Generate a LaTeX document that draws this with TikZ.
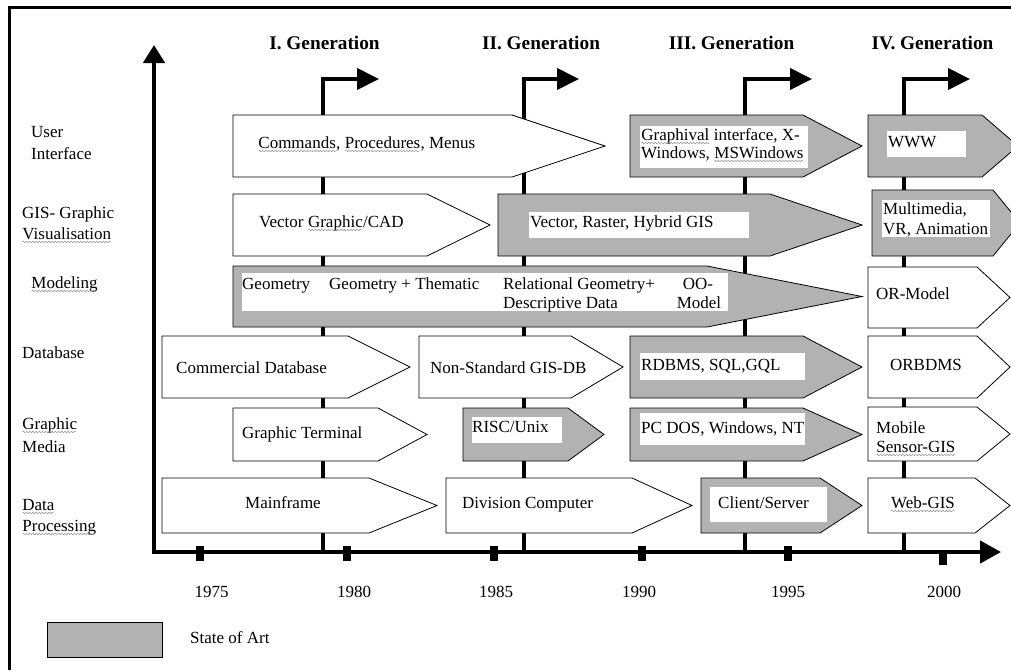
\documentclass[tikz,border=0pt]{standalone}
\usepackage{fontspec}
\setmainfont{Liberation Serif}
\usetikzlibrary{arrows.meta,decorations.pathmorphing}
\definecolor{soa}{gray}{0.70}
\definecolor{squig}{gray}{0.55}
% word with a fine wavy grey underline
\newcommand{\sqw}[1]{\tikz[baseline=(w.base)]{\node[inner sep=0pt,outer sep=0pt] (w) {#1};
  \draw[squig, line width=0.45pt, decorate, decoration={snake,amplitude=0.8pt,segment length=3.2pt}]
    ([yshift=-3pt]w.base west) -- ([yshift=-3pt]w.base east);}}
% arrow-shaped box: style, left x, body end x, tip x, top y, bottom y
\newcommand{\pent}[6]{\draw[#1] (#2,#5) -- (#3,#5) -- (#4,{(#5+#6)/2}) -- (#3,#6) -- (#2,#6) -- cycle;}
\begin{document}
\begin{tikzpicture}[x=1pt,y=-1pt,
  txt/.style={inner sep=0pt, anchor=base west, font=\fontsize{17}{20}\selectfont},
  ctxt/.style={txt, anchor=base},
  hdr/.style={inner sep=0pt, anchor=base, font=\fontsize{19.3}{22}\selectfont\bfseries},
  wbox/.style={draw=black, line width=0.8pt, fill=white, line join=miter},
  gbox/.style={wbox, fill=soa},
  inner/.style={fill=white},
  axis/.style={line width=4.5pt, line join=miter},
  gen/.style={line width=4pt, line join=miter, -{Triangle[length=22pt,width=21pt]}},
  tick/.style={fill=black}
]
\useasboundingbox (0,0) rectangle (1011,670);
\begin{scope}
\clip (0,0) rectangle (1011,670);

% frame
\draw[line width=3pt] (9,670) -- (9,7) -- (1011,7);

% generation lines with bent arrows
\coordinate (g1b) at (322.5,552); \coordinate (g1c) at (322.5,79); \coordinate (g1t) at (379,79);
\coordinate (g2b) at (524,552);   \coordinate (g2c) at (524,79);   \coordinate (g2t) at (579,79);
\coordinate (g3b) at (744.5,552); \coordinate (g3c) at (744.5,79); \coordinate (g3t) at (812,79);
\coordinate (g4b) at (904,552);   \coordinate (g4c) at (904,79);   \coordinate (g4t) at (970,79);
\draw[gen] (g1b) -- (g1c) -- (g1t);
\draw[gen] (g2b) -- (g2c) -- (g2t);
\draw[gen] (g3b) -- (g3c) -- (g3t);
\draw[gen] (g4b) -- (g4c) -- (g4t);

% axes
\coordinate (o) at (154,552);
\coordinate (ytop) at (154,45);
\coordinate (xend) at (1001,552);
\draw[axis, {Triangle[length=18pt,width=21pt]}-{Triangle[length=21pt,width=22pt]}] (ytop) -- (o) -- (xend);

% ticks
\foreach \x in {200,347,494,642,788} \fill[tick] (\x-4,546) rectangle (\x+4,561);
\fill[tick] (939,553) rectangle (947,565);

% User Interface row
\pent{wbox}{233}{512}{605}{115}{177}
\pent{gbox}{630}{803}{862}{115}{177}
\fill[inner] (640,126) rectangle (808,168);
\pent{gbox}{868}{982}{1018}{115}{177}
\fill[inner] (887,131) rectangle (966,157);

% GIS-Graphic Visualisation row
\pent{wbox}{233}{427}{490}{194}{256}
\pent{gbox}{498}{770}{862}{194}{256}
\fill[inner] (529,212) rectangle (749,238);
\pent{gbox}{872}{993}{1020}{190}{256}
\fill[inner] (882,200) rectangle (990,237);

% Modeling row
\pent{gbox}{233}{707}{862}{266}{327}
\fill[inner] (242,273) rectangle (728,311);
\pent{wbox}{868}{977}{1010}{267}{328}

% Database row
\pent{wbox}{162}{348}{410}{336}{398}
\pent{wbox}{419}{571}{623}{336}{398}
\pent{gbox}{630}{803}{862}{336}{398}
\fill[inner] (640,353) rectangle (805,380);
\pent{wbox}{868}{977}{1010}{336}{398}

% Graphic Media row
\pent{wbox}{233}{378}{427}{408}{461}
\pent{gbox}{463}{568}{604}{408}{461}
\fill[inner] (472,417) rectangle (562,443);
\pent{gbox}{630}{803}{862}{408}{461}
\fill[inner] (640,413) rectangle (805,445);
\pent{wbox}{868}{977}{1010}{407}{461}

% Data Processing row
\pent{wbox}{162}{369}{437}{478}{533}
\pent{wbox}{446}{632}{692}{478}{533}
\pent{gbox}{701}{820}{862}{478}{533}
\fill[inner] (710,487) rectangle (827,522);
\pent{wbox}{868}{975}{1010}{478}{533}

% legend
\draw[gbox] (47,622) rectangle (162,657);
\end{scope}

% headers
\node[hdr] (h1) at (324.5,49) {I. Generation};
\node[hdr] (h2) at (541,49) {II. Generation};
\node[hdr] (h3) at (731.5,49) {III. Generation};
\node[hdr] (h4) at (932.5,49) {IV. Generation};

% row labels
\node[txt] (ui1) at (31,137) {User};
\node[txt] (ui2) at (31,159) {Interface};
\node[txt] (gv1) at (22,218) {GIS- Graphic};
\node[txt] (gv2) at (22,239) {\sqw{Visualisation}};
\node[txt] (mo)  at (31,288) {\sqw{Modeling}};
\node[txt] (db)  at (22,358) {Database};
\node[txt] (gm1) at (22,429) {\sqw{Graphic}};
\node[txt] (gm2) at (22,452) {Media};
\node[txt] (dp1) at (22,510) {\sqw{Data}};
\node[txt] (dp2) at (22,531) {\sqw{Processing}};

% User Interface texts
\node[txt] (t11) at (258,148) {\sqw{Commands}, \sqw{Procedures}, Menus};
\node[txt] (t12a) at (641,140) {\sqw{Graphival} interface, X-};
\node[txt] (t12b) at (641,158) {Windows, \sqw{MSWindows}};
\node[txt] (t13) at (888,147) {WWW};

% GIS-Graphic Visualisation texts
\node[txt] (t21) at (259,227) {Vector \sqw{Graphic}/CAD};
\node[txt] (t22) at (530,227) {Vector, Raster, Hybrid GIS};
\node[txt] (t23a) at (883,214) {Multimedia,};
\node[txt] (t23b) at (883,234) {VR, Animation};

% Modeling texts
\node[txt] (t31) at (242,289) {Geometry};
\node[txt] (t32) at (329,289) {Geometry + Thematic};
\node[txt] (t33a) at (503,289) {Relational Geometry+};
\node[txt] (t33b) at (503,308) {Descriptive Data};
\node[ctxt] (t34a) at (698,289) {OO-};
\node[ctxt] (t34b) at (699,308) {Model};
\node[txt] (t35) at (876,299) {OR-Model};

% Database texts
\node[txt] (t41) at (176,373) {Commercial Database};
\node[txt] (t42) at (430,373) {Non-Standard GIS-DB};
\node[txt] (t43) at (641,370) {RDBMS, SQL,GQL};
\node[ctxt] (t44) at (926,370) {ORBDMS};

% Graphic Media texts
\node[txt] (t51) at (242,438) {Graphic Terminal};
\node[txt] (t52) at (472,432) {RISC/Unix};
\node[txt] (t53) at (641,433) {PC DOS, Windows, NT};
\node[txt] (t54a) at (876,433) {Mobile};
\node[txt] (t54b) at (876,452) {\sqw{Sensor-GIS}};

% Data Processing texts
\node[ctxt] (t61) at (283,508) {Mainframe};
\node[txt] (t62) at (462,508) {Division Computer};
\node[txt] (t63) at (718,508) {Client/Server};
\node[ctxt] (t64) at (923,508) {\sqw{Web-GIS}};

% years
\node[ctxt] (y75) at (211.5,597) {1975};
\node[ctxt] (y80) at (354,597) {1980};
\node[ctxt] (y85) at (496,597) {1985};
\node[ctxt] (y90) at (639,597) {1990};
\node[ctxt] (y95) at (788,597) {1995};
\node[ctxt] (y00) at (944,597) {2000};

% legend text
\node[txt] (leg) at (190,643) {State of Art};
\end{tikzpicture}
\end{document}
